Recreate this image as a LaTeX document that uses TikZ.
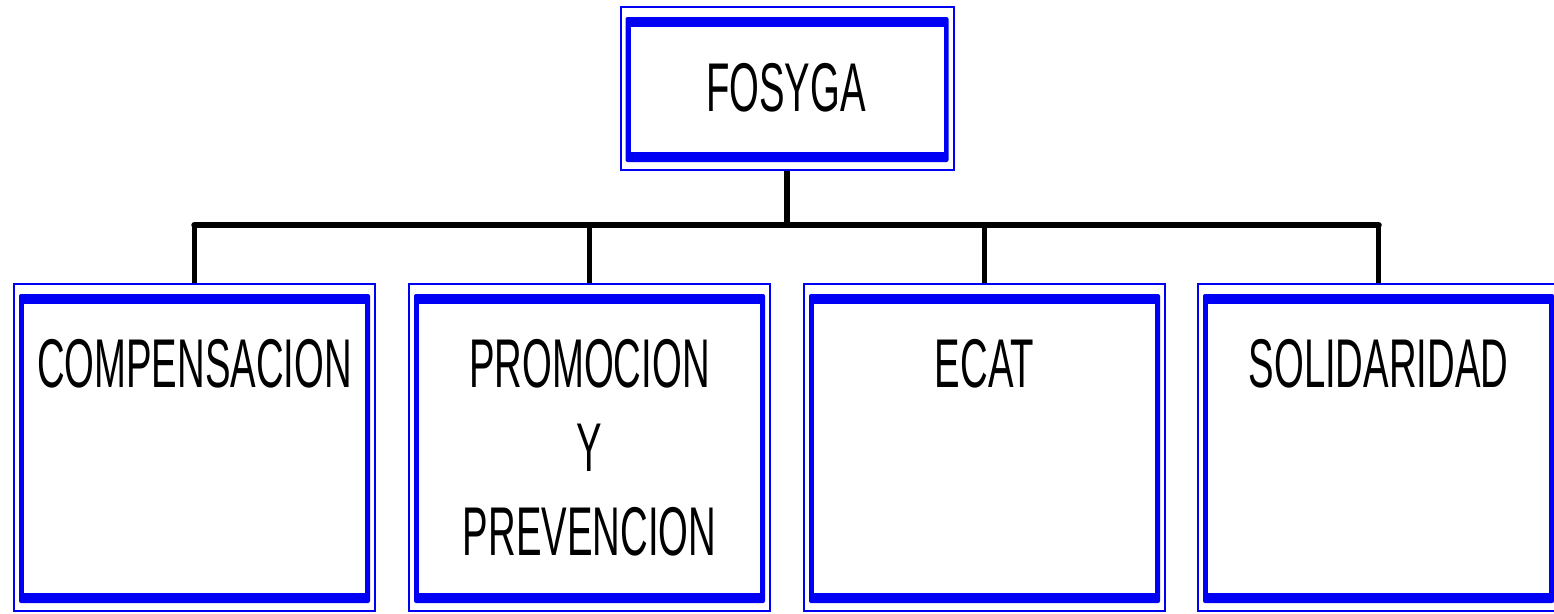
\documentclass[tikz,border=0pt]{standalone}
\usepackage{fontspec}
\setmainfont{Liberation Sans}[FakeStretch=0.555]
\definecolor{boxblue}{RGB}{0,0,245}
\tikzset{
  dbox/.style={draw=boxblue, line width=2pt, inner sep=0pt, fill=white,
    path picture={
      \fill[boxblue,rounded corners=2pt] ([xshift=5pt,yshift=-10pt]path picture bounding box.north west) rectangle ([xshift=-5pt,yshift=8pt]path picture bounding box.south east);
      \fill[white] ([xshift=10pt,yshift=-20pt]path picture bounding box.north west) rectangle ([xshift=-10pt,yshift=18pt]path picture bounding box.south east);
    }},
  lbl/.style={font=\fontsize{69}{84}\selectfont, align=center, inner sep=0pt, anchor=base},
  conn/.style={line width=5.5pt, black},
  bus/.style={line width=6.5pt, black, line cap=round}
}
\begin{document}
\begin{tikzpicture}[x=1pt,y=-1pt]
\useasboundingbox (0,0) rectangle (1554,613);
\clip (0,0) rectangle (1554,613);
\node[dbox, minimum width=333pt, minimum height=163pt] (top) at (787,88.5) {};
\node[lbl] (toplbl) at (786,111) {FOSYGA};
\node[dbox, minimum width=361pt, minimum height=327pt] (c1) at (194.5,447.5) {};
\node[dbox, minimum width=361pt, minimum height=327pt] (c2) at (589.5,447.5) {};
\node[dbox, minimum width=361pt, minimum height=327pt] (c3) at (984.5,447.5) {};
\node[dbox, minimum width=361pt, minimum height=327pt] (c4) at (1378.5,447.5) {};
\node[lbl] (l1) at (194.5,387) {COMPENSACION};
\node[lbl] (l2) at (589.5,555) {PROMOCION\\Y\\PREVENCION};
\node[lbl] (l3) at (984.5,387) {ECAT};
\node[lbl] (l4) at (1378.5,387) {SOLIDARIDAD};
\coordinate (b) at (787,225);
\draw[conn] (top.south) -- (top.south |- b);
\draw[conn] (c1.north) -- (c1.north |- b);
\draw[conn] (c2.north) -- (c2.north |- b);
\draw[conn] (c3.north) -- (c3.north |- b);
\draw[conn] (c4.north) -- (c4.north |- b);
\draw[bus] (c1.north |- b) -- (c4.north |- b);
\end{tikzpicture}
\end{document}
